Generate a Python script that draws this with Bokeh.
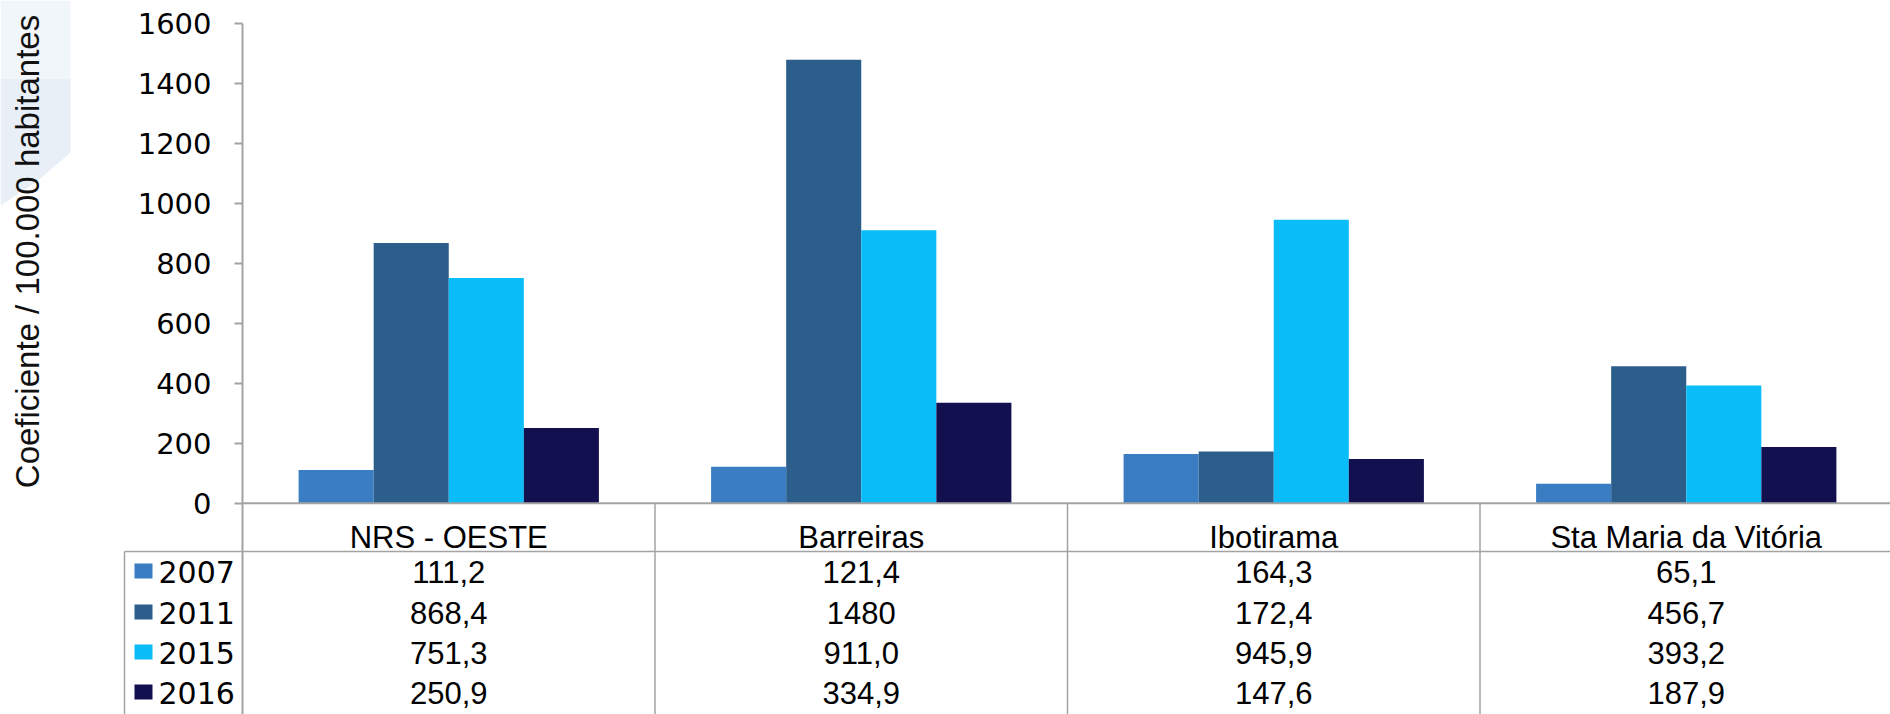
import math
from bokeh.plotting import figure
from bokeh.models import (ColumnDataSource, Range1d, FixedTicker, Label,
                          BoxAnnotation, PolyAnnotation)
from bokeh.transform import dodge
from bokeh.core.properties import value
from bokeh.embed import file_html
from bokeh.resources import INLINE

# ---------------- data ----------------
categories = ["NRS - OESTE", "Barreiras", "Ibotirama", "Sta Maria da Vitória"]
years = ["2007", "2011", "2015", "2016"]
v2007 = [111.2, 121.4, 164.3, 65.1]
v2011 = [868.4, 1480.0, 172.4, 456.7]
v2015 = [751.3, 911.0, 945.9, 393.2]
v2016 = [250.9, 334.9, 147.6, 187.9]
txt2007 = ["111,2", "121,4", "164,3", "65,1"]
txt2011 = ["868,4", "1480", "172,4", "456,7"]
txt2015 = ["751,3", "911,0", "945,9", "393,2"]
txt2016 = ["250,9", "334,9", "147,6", "187,9"]
y_ticks = [0, 200, 400, 600, 800, 1000, 1200, 1400, 1600]
y_title = "Coeficiente / 100.000 habitantes"
colors = ["#3a7dc3", "#2c5e8c", "#0abcf8", "#13104f"]

# ---------------- layout ----------------
W, H = 1890, 714
AXIS_X = 242.0             # px of the value axis
CAT_PX = 412.5             # px per category
Y0_PX = 502.7              # px of value 0
PX_PER_UNIT = 479.4 / 1600.0
GRAY = "#a3a3a3"


def xd(px):
    return (px - AXIS_X) / CAT_PX


def yd(py):
    return (Y0_PX - py) / PX_PER_UNIT


x_range = Range1d(xd(0), xd(W))
y_range = Range1d(yd(H), yd(0))

p = figure(width=W, height=H, x_range=x_range, y_range=y_range,
           output_backend="svg", toolbar_location=None,
           x_axis_location=None, y_axis_location="left",
           min_border_left=0, min_border_right=0,
           min_border_top=0, min_border_bottom=0,
           background_fill_color="white", border_fill_color="white")
p.outline_line_color = None
p.grid.visible = False

# decorative pale slide background in the top-left corner
p.add_layout(PolyAnnotation(
    xs=[xd(0), xd(70), xd(70), xd(55), xd(35), xd(0)],
    ys=[yd(78), yd(78), yd(152), yd(165), yd(182), yd(205)],
    fill_color="#e8eff7", fill_alpha=1, line_color=None, level="underlay"))
p.add_layout(PolyAnnotation(
    xs=[xd(0), xd(70), xd(70), xd(0)],
    ys=[yd(0), yd(0), yd(78), yd(78)],
    fill_color="#f1f6fb", fill_alpha=1, line_color=None, level="underlay"))

# y axis, fixed at x = 0 inside the frame
ax = p.yaxis[0]
ax.fixed_location = 0
ax.bounds = (y_range.start, y_ticks[-1])
ax.ticker = FixedTicker(ticks=y_ticks)
ax.major_label_text_font = "DejaVu Sans"
ax.major_label_text_font_size = "29px"
ax.major_label_text_color = "black"
ax.axis_line_color = GRAY
ax.axis_line_width = 2
ax.major_tick_line_color = GRAY
ax.major_tick_line_width = 2
ax.major_tick_out = 8
ax.major_tick_in = 0
ax.minor_tick_line_color = None
ax.major_label_standoff = 23

# bars
n = len(categories)
src = ColumnDataSource(dict(x=[i + 0.5 for i in range(n)],
                            y2007=v2007, y2011=v2011, y2015=v2015, y2016=v2016))
bw = 0.182
offsets = [-1.5 * bw, -0.5 * bw, 0.5 * bw, 1.5 * bw]
for yr, off, col in zip(years, offsets, colors):
    p.vbar(x=dodge("x", off, range=p.x_range), top="y" + yr, bottom=0,
           width=bw, source=src, fill_color=col, line_color=None)

# zero line, table lines
p.segment(x0=[0], y0=[0], x1=[x_range.end], y1=[0], line_color=GRAY, line_width=2)
header_bottom = yd(551)
p.segment(x0=[xd(124)], y0=[header_bottom], x1=[x_range.end], y1=[header_bottom],
          line_color=GRAY, line_width=1.5)
p.segment(x0=[xd(124)], y0=[header_bottom], x1=[xd(124)], y1=[y_range.start],
          line_color=GRAY, line_width=1.5)
div_x = list(range(1, n))
p.segment(x0=div_x, y0=[0] * len(div_x), x1=div_x,
          y1=[y_range.start] * len(div_x), line_color=GRAY, line_width=1.5)

# table text
header_y = yd(537)
row_px = [571, 612, 652, 692]
p.text(x=[i + 0.5 for i in range(n)], y=[header_y] * n, text=categories,
       text_align="center", text_baseline="middle",
       text_font=value("Liberation Sans"), text_font_size=value("31px"),
       text_color="black")

rows = [txt2007, txt2011, txt2015, txt2016]
tx, ty, tt = [], [], []
for r, labels in enumerate(rows):
    for i, t in enumerate(labels):
        tx.append(i + 0.5)
        ty.append(yd(row_px[r]))
        tt.append(t)
p.text(x=tx, y=ty, text=tt, text_align="center", text_baseline="middle",
       text_font=value("Liberation Sans"), text_font_size=value("31px"),
       text_color="black")

# legend keys in the table
for r, (yr, col) in enumerate(zip(years, colors)):
    cy = row_px[r]
    p.add_layout(BoxAnnotation(left=xd(134), right=xd(152), top=yd(cy - 8),
                               bottom=yd(cy + 7), fill_color=col, fill_alpha=1,
                               line_color=None))
    p.add_layout(Label(x=xd(158), y=yd(cy), text=yr, text_align="left",
                       text_baseline="middle", text_font="DejaVu Sans",
                       text_font_size="30px", text_color="black"))

# y title
p.add_layout(Label(x=xd(27), y=yd(251), text=y_title, angle=math.pi / 2,
                   text_align="center", text_baseline="middle",
                   text_font="Liberation Sans", text_font_size="33px",
                   text_color="#111111"))

open("out.html", "w").write(file_html(p, INLINE))
